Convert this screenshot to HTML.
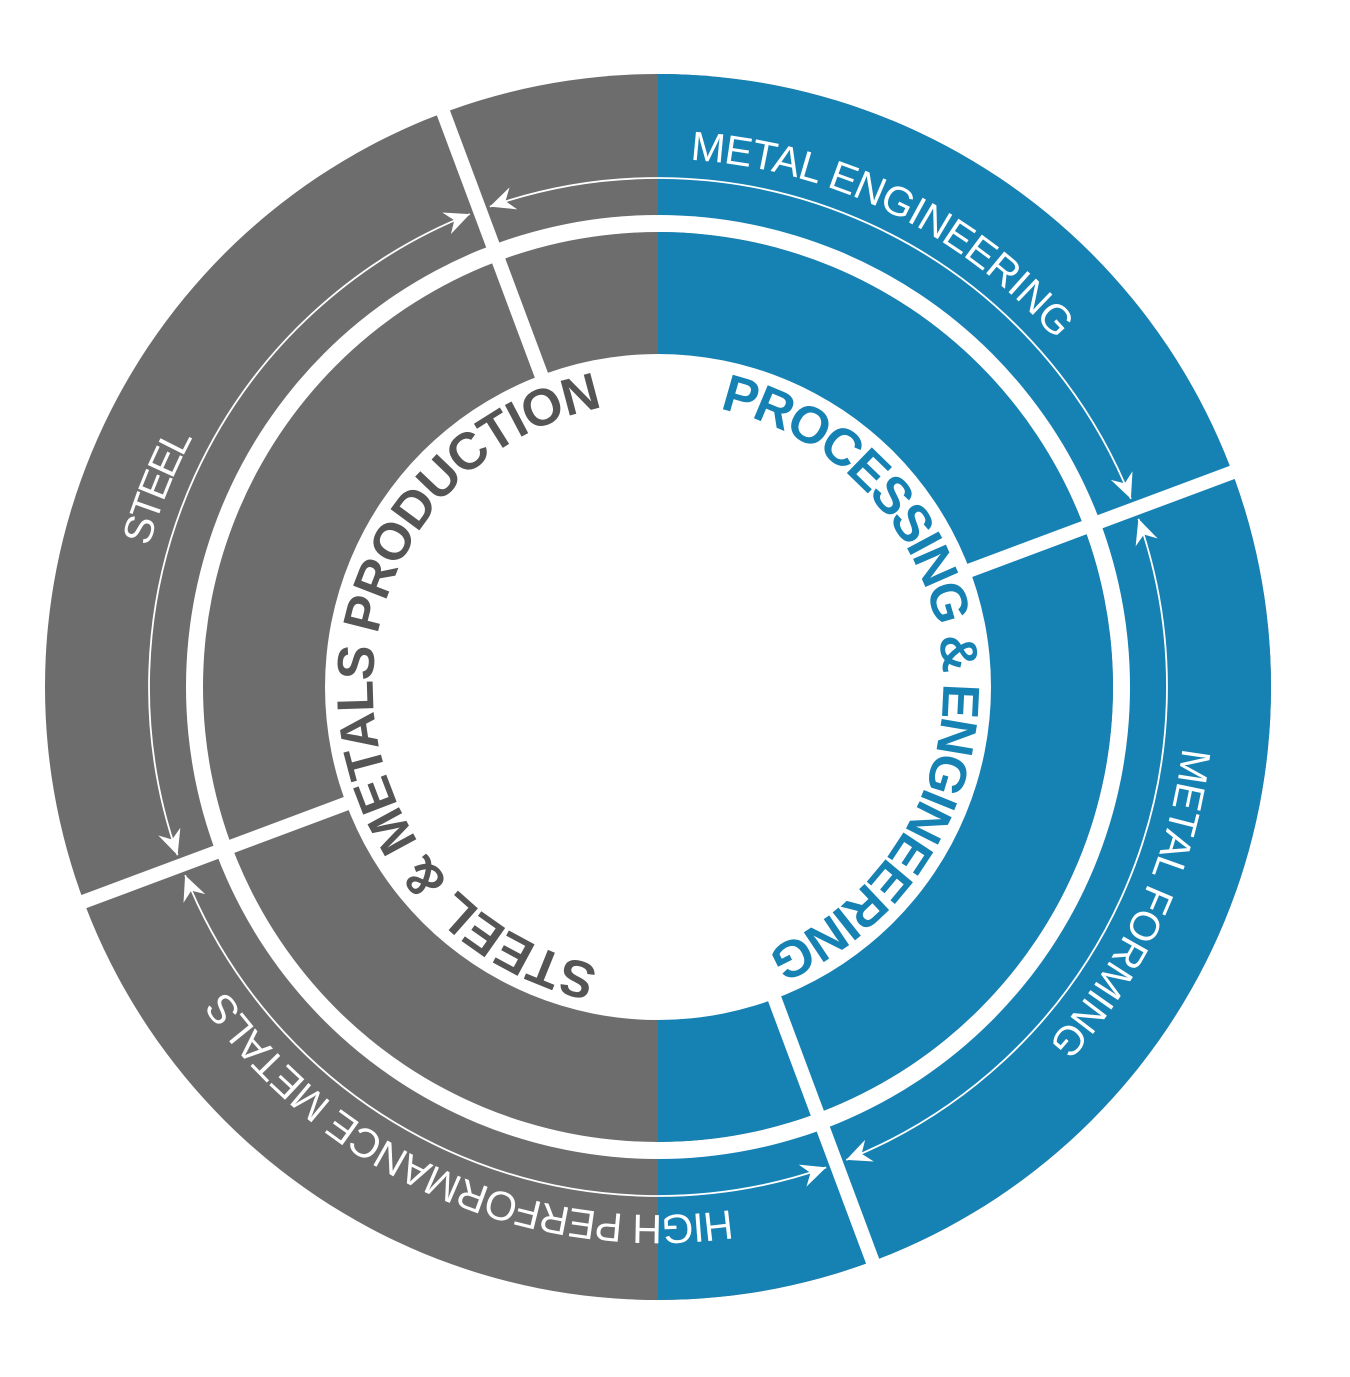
<!DOCTYPE html>
<html><head><meta charset="utf-8"><style>html,body{margin:0;padding:0;background:#fff}svg{display:block}</style></head>
<body>
<svg width="1350" height="1377" viewBox="0 0 1350 1377" xmlns="http://www.w3.org/2000/svg">
<defs>
<marker id="ar" markerUnits="userSpaceOnUse" markerWidth="30" markerHeight="30" refX="0" refY="0" viewBox="-16 -8 18 16" orient="auto-start-reverse">
<path d="M0,0 L-15,-7 L-10,0 L-15,7 Z" fill="#fff"/>
</marker>
<path id="po" d="M658,159 A528,528 0 1 1 658,1215 A528,528 0 1 1 658,159 A528,528 0 1 1 658,1215 A528,528 0 1 1 658,159"/>
<path id="pi" d="M658,402 A285,285 0 1 1 658,972 A285,285 0 1 1 658,402 A285,285 0 1 1 658,972 A285,285 0 1 1 658,402"/>
</defs>
<circle cx="658" cy="687" r="613" fill="#6d6d6d"/>
<path d="M658,74 A613,613 0 0 1 658,1300 Z" fill="#1682b4"/>
<circle cx="658" cy="687" r="472" fill="#fff"/>
<circle cx="658" cy="687" r="455" fill="#6d6d6d"/>
<path d="M658,232 A455,455 0 0 1 658,1142 Z" fill="#1682b4"/>
<circle cx="658" cy="687" r="333" fill="#fff"/>
<g stroke="#fff" stroke-width="14">
<line x1="542.4" y1="377.9" x2="440.9" y2="106.2"/>
<line x1="967.1" y1="571.4" x2="1238.8" y2="469.9"/>
<line x1="773.6" y1="996.1" x2="875.1" y2="1267.8"/>
<line x1="348.9" y1="802.6" x2="77.2" y2="904.1"/>
</g>
<g fill="none" stroke="#fff" stroke-width="1.8" marker-start="url(#ar)" marker-end="url(#ar)">
<path d="M489.8,206.6 A509,509 0 0 1 1130.9,498.8"/>
<path d="M1138.4,518.8 A509,509 0 0 1 846.2,1159.9"/>
<path d="M826.2,1167.4 A509,509 0 0 1 185.1,875.2"/>
<path d="M177.6,855.2 A509,509 0 0 1 469.8,214.1"/>
</g>
<g font-family="Liberation Sans, sans-serif" font-size="41" fill="#fff">
<text><textPath href="#po" startOffset="32" textLength="419" lengthAdjust="spacing">METAL ENGINEERING</textPath></text>
<text><textPath href="#po" startOffset="890" textLength="330" lengthAdjust="spacing">METAL FORMING</textPath></text>
<text><textPath href="#po" startOffset="1585" textLength="580" lengthAdjust="spacing">HIGH PERFORMANCE METALS</textPath></text>
<text><textPath href="#po" startOffset="2630" textLength="118" lengthAdjust="spacing">STEEL</textPath></text>
</g>
<g font-family="Liberation Sans, sans-serif" font-size="52" font-weight="bold">
<text fill="#555555"><textPath href="#pi" startOffset="955" textLength="780" lengthAdjust="spacing">STEEL &amp; METALS PRODUCTION</textPath></text>
<text fill="#1682b4"><textPath href="#pi" startOffset="62" textLength="722" lengthAdjust="spacing">PROCESSING &amp; ENGINEERING</textPath></text>
</g>
</svg>
</body></html>
